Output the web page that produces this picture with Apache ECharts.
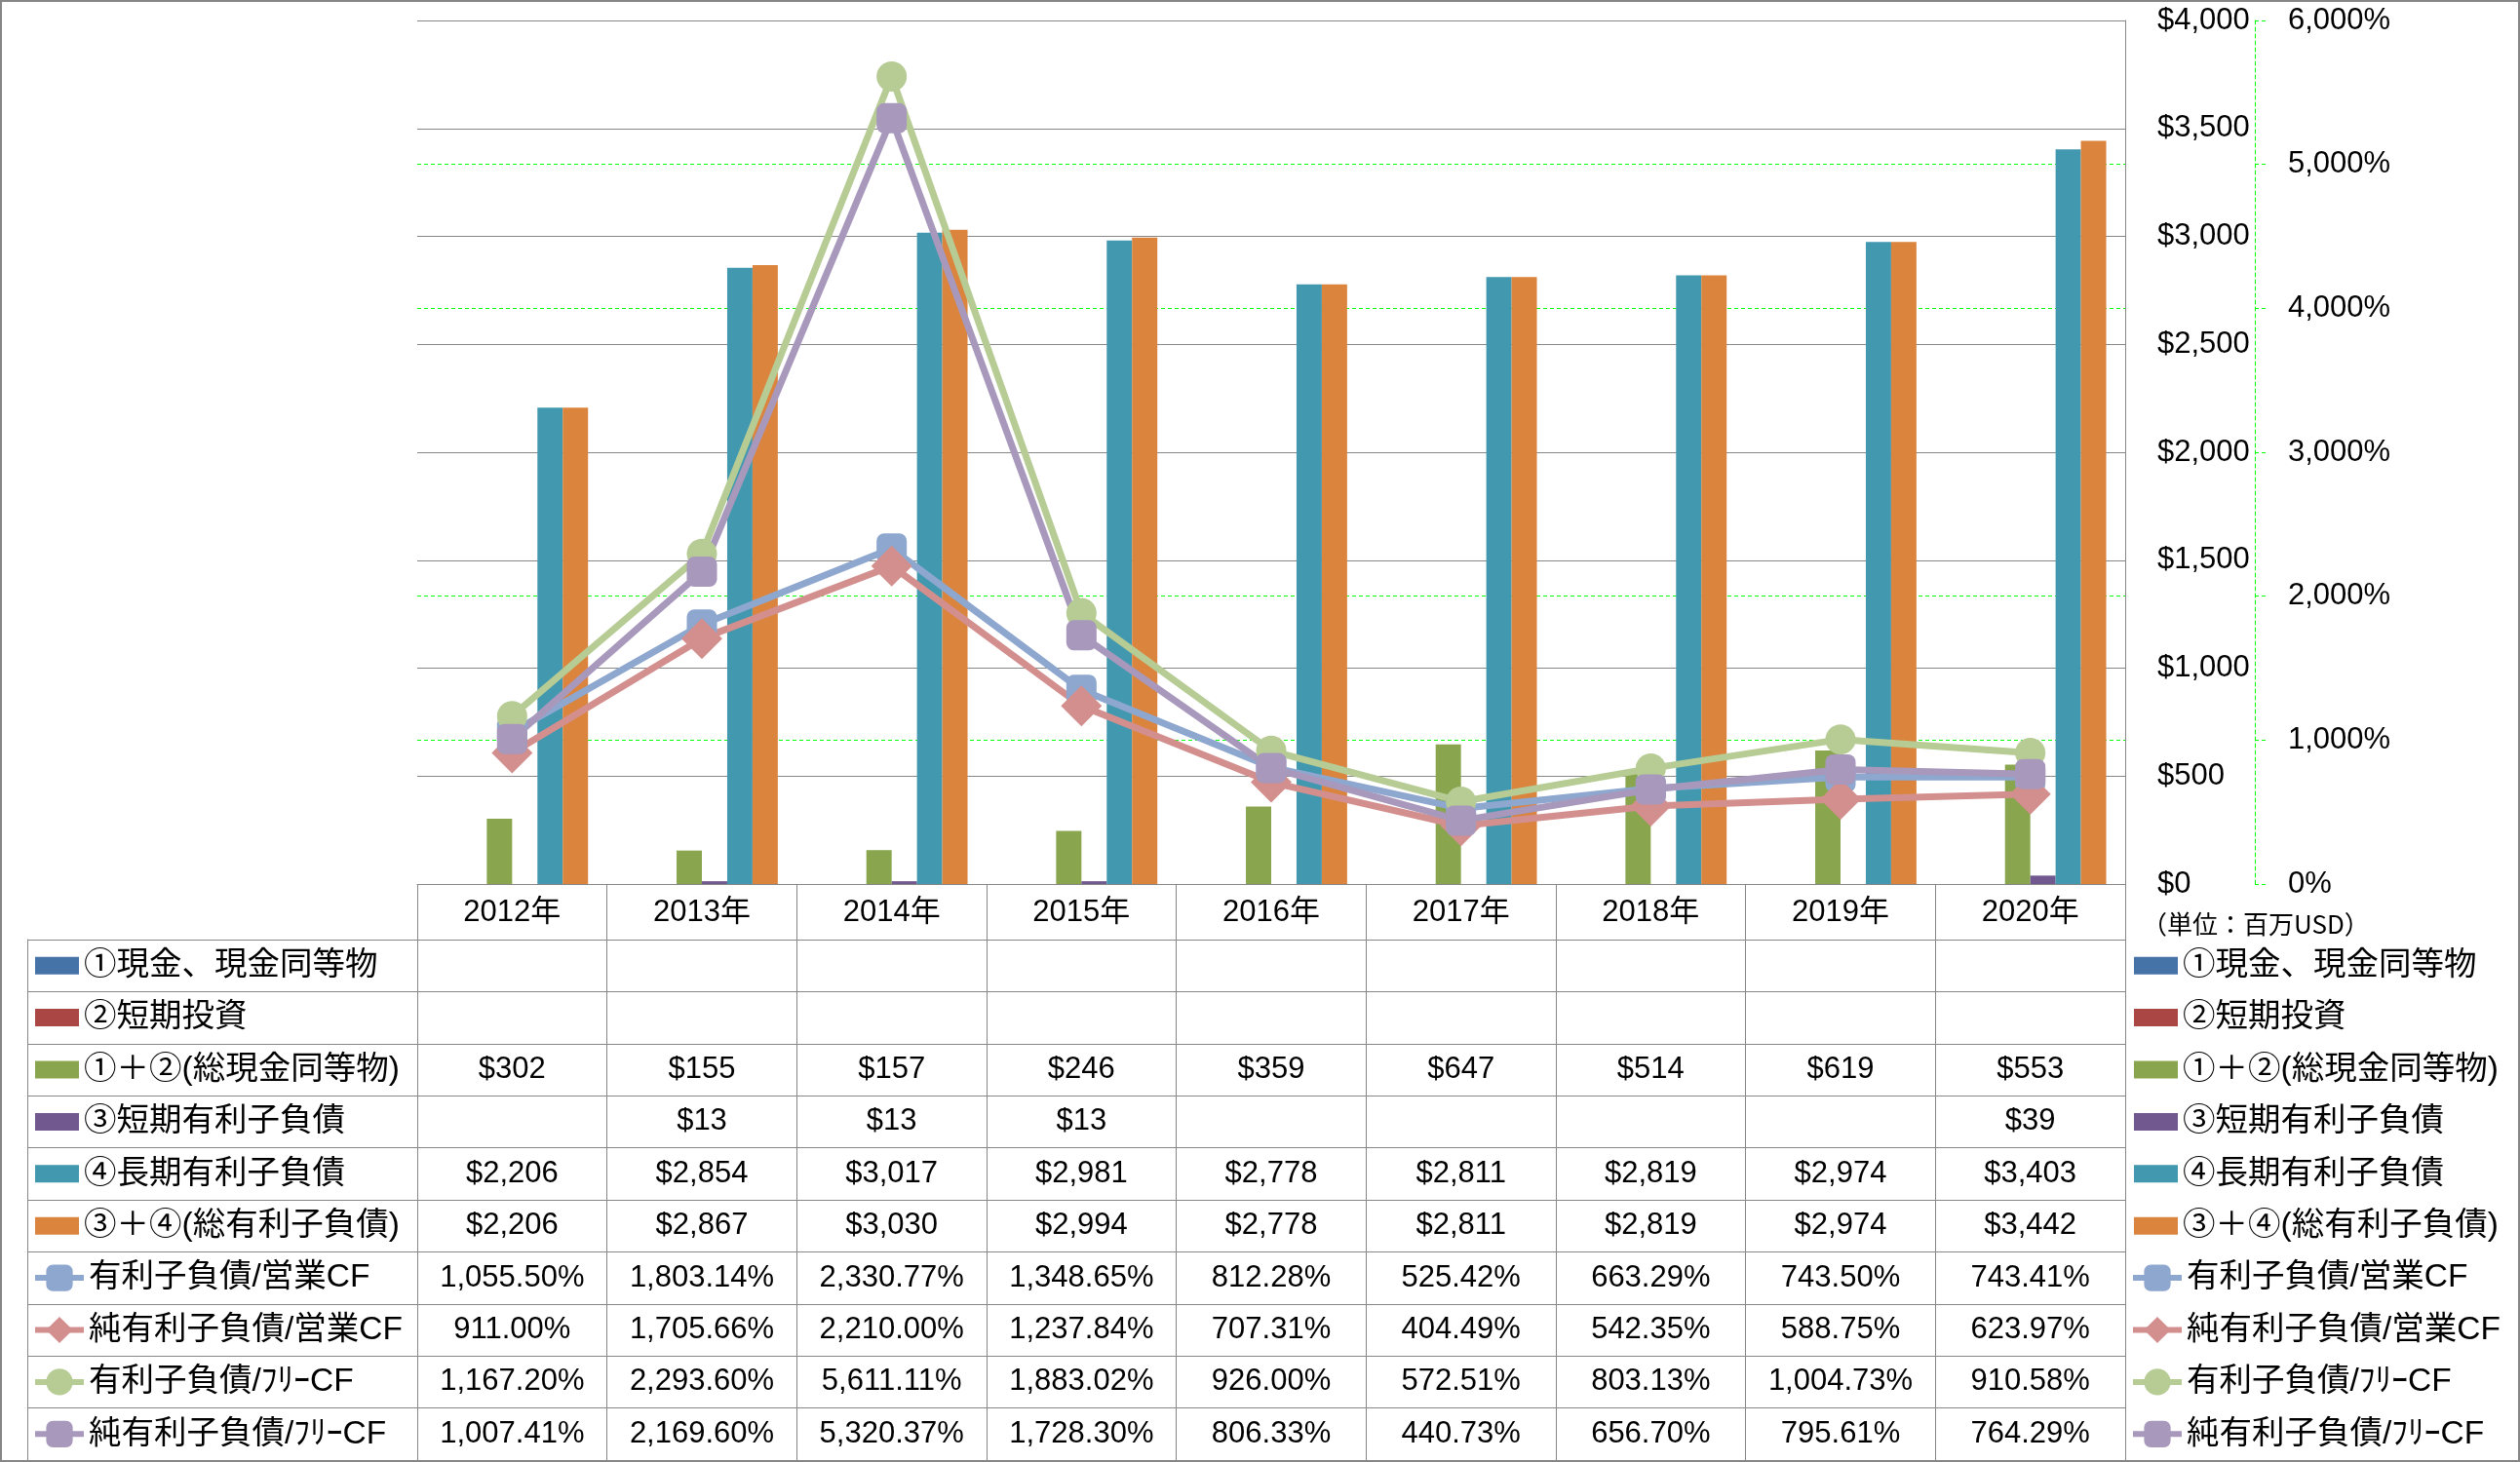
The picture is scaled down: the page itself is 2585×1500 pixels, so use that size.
<!DOCTYPE html>
<html><head><meta charset="utf-8">
<script src="https://cdn.jsdelivr.net/npm/echarts@6/dist/echarts.min.js"></script>
<style>
html,body{margin:0;padding:0;background:#fff;}
#c{width:2585px;height:1500px;position:absolute;left:0;top:0;}
#frame{position:absolute;left:0;top:0;width:2585px;height:1500px;box-sizing:border-box;border:2px solid #868686;pointer-events:none;}
</style>
</head><body><div id="c"></div><div id="frame"></div>
<script>
// ---- data ----
const years = ['2012年','2013年','2014年','2015年','2016年','2017年','2018年','2019年','2020年'];
const cash        = [null,null,null,null,null,null,null,null,null];
const shortInv    = [null,null,null,null,null,null,null,null,null];
const totalCash   = [302,155,157,246,359,647,514,619,553];
const shortDebt   = [null,13,13,13,null,null,null,null,39];
const longDebt    = [2206,2854,3017,2981,2778,2811,2819,2974,3403];
const totalDebt   = [2206,2867,3030,2994,2778,2811,2819,2974,3442];
const debtOpCF      = [1055.50,1803.14,2330.77,1348.65,812.28,525.42,663.29,743.50,743.41];
const netDebtOpCF   = [911.00,1705.66,2210.00,1237.84,707.31,404.49,542.35,588.75,623.97];
const debtFreeCF    = [1167.20,2293.60,5611.11,1883.02,926.00,572.51,803.13,1004.73,910.58];
const netDebtFreeCF = [1007.41,2169.60,5320.37,1728.30,806.33,440.73,656.70,795.61,764.29];
const usdTicks = [0,500,1000,1500,2000,2500,3000,3500,4000];
const pctTicks = [0,1000,2000,3000,4000,5000,6000];
const unitText = '（単位：百万USD）';

const barNames = ['①現金、現金同等物','②短期投資','①＋②(総現金同等物)','③短期有利子負債','④長期有利子負債','③＋④(総有利子負債)'];
const lineNames = ['有利子負債/営業CF','純有利子負債/営業CF','有利子負債/ﾌﾘｰCF','純有利子負債/ﾌﾘｰCF'];
const barData = [cash, shortInv, totalCash, shortDebt, longDebt, totalDebt];
const lineData = [debtOpCF, netDebtOpCF, debtFreeCF, netDebtFreeCF];
const barColors = ['#4572A7','#AA4643','#89A54E','#71588F','#4198AF','#DB843D'];
const lineColors = ['#8EA7CF','#D38F8D','#B6CC94','#A798BC'];
const lineSymbols = ['roundRect','diamond','circle','roundRect'];
const lineSymbolSizes = [31,42,31,31];

// ---- helpers ----
const FONT = "'Liberation Sans', 'Noto Sans CJK JP', sans-serif";
const GRID = '#878787';
const GREEN = '#00ff00';
const usd = v => '$' + Number(v).toLocaleString('en-US');
const pct2 = v => Number(v).toLocaleString('en-US',{minimumFractionDigits:2,maximumFractionDigits:2}) + '%';
const pct0 = v => Number(v).toLocaleString('en-US') + '%';

const ROW_TOP = 964, ROW_H = 53.4, NROWS = 10;
const rowCenter = i => ROW_TOP + ROW_H * (i + 0.5);

// table cells
const tableCells = [], tableTexts = [];
barData.forEach((arr, r) => arr.forEach((v, c) => { if (v != null) { tableCells.push([c, r]); tableTexts.push(usd(v)); } }));
lineData.forEach((arr, k) => arr.forEach((v, c) => { if (v != null) { tableCells.push([c, 6 + k]); tableTexts.push(pct2(v)); } }));

const series = [];
barNames.forEach((n, i) => series.push({
  name: n, type: 'bar', xAxisIndex: 0, yAxisIndex: 0, data: barData[i],
  barGap: '0%', barCategoryGap: '20%', itemStyle: {color: barColors[i]}, z: 2
}));
lineNames.forEach((n, i) => series.push({
  name: n, type: 'line', xAxisIndex: 0, yAxisIndex: 1, data: lineData[i],
  symbol: lineSymbols[i], symbolSize: lineSymbolSizes[i],
  lineStyle: {width: 7, color: lineColors[i]}, itemStyle: {color: lineColors[i]}, z: 3
}));
series.push({
  type: 'custom', xAxisIndex: 1, yAxisIndex: 2, data: tableCells, silent: true,
  encode: {x: 0, y: 1},
  renderItem: function (params, api) {
    const p = api.coord([api.value(0), api.value(1)]);
    return {type: 'text', x: p[0], y: p[1], style: {
      text: tableTexts[params.dataIndex], fill: '#000', fontSize: 31, fontFamily: FONT,
      align: 'center', verticalAlign: 'middle'}};
  }
});

const legendText = {fontSize: 33.5, fontFamily: FONT, color: '#000', lineHeight: 34};
function barLegend(left) {
  return {orient: 'vertical', left: left, top: rowCenter(0) - 17, padding: 0,
    itemGap: ROW_H - 34, itemWidth: 45, itemHeight: 18, icon: 'rect',
    selectedMode: false, textStyle: legendText, data: barNames};
}
function lineLegend(left) {
  return {orient: 'vertical', left: left, top: rowCenter(6) - 17, padding: 0,
    itemGap: ROW_H - 34, itemWidth: 50, itemHeight: 34,
    selectedMode: false, textStyle: legendText, lineStyle: {width: 6}, data: lineNames};
}

const option = {
  animation: false,
  backgroundColor: '#fff',
  textStyle: {fontFamily: FONT},
  title: {text: unitText, left: 2197, top: 935, padding: 0,
    textStyle: {fontSize: 26, fontWeight: 'normal', color: '#000', fontFamily: "'Noto Sans CJK JP', sans-serif", lineHeight: 26}},
  legend: [barLegend(36), lineLegend(33), barLegend(2189), lineLegend(2185)],
  grid: [
    {left: 428, right: 405, top: 21, bottom: 593, containLabel: false},
    {left: 428, width: 1752, top: ROW_TOP, height: ROW_H * NROWS, containLabel: false},
    {left: 28, width: 400, top: ROW_TOP, height: ROW_H * NROWS, containLabel: false}
  ],
  xAxis: [
    {type: 'category', gridIndex: 0, data: years, z: 2,
      axisLine: {show: true, lineStyle: {color: GRID, width: 1}},
      axisTick: {show: true, interval: 0, length: 57, lineStyle: {color: GRID, width: 1}},
      axisLabel: {interval: 0, fontSize: 31, fontFamily: FONT, color: '#000', margin: 13.5, lineHeight: 31},
      splitLine: {show: false}},
    {type: 'category', gridIndex: 1, data: years,
      axisLine: {show: false}, axisTick: {show: false}, axisLabel: {show: false},
      splitLine: {show: true, interval: 0, lineStyle: {color: GRID, width: 1}}},
    {type: 'value', gridIndex: 2, show: false, min: 0, max: 1}
  ],
  yAxis: [
    {type: 'value', gridIndex: 0, position: 'right', z: 1, min: usdTicks[0], max: usdTicks[usdTicks.length - 1],
      interval: usdTicks[1] - usdTicks[0],
      axisLine: {show: true, lineStyle: {color: GRID, width: 1}}, axisTick: {show: false},
      axisLabel: {margin: 33, fontSize: 31, fontFamily: FONT, color: '#000', formatter: usd},
      splitLine: {show: true, lineStyle: {color: GRID, width: 1}}},
    {type: 'value', gridIndex: 0, position: 'right', offset: 133, z: 0, min: pctTicks[0], max: pctTicks[pctTicks.length - 1],
      interval: pctTicks[1] - pctTicks[0],
      axisLine: {show: true, lineStyle: {color: GREEN, width: 1, type: [4, 3]}},
      axisTick: {show: true, length: 12, lineStyle: {color: GREEN, width: 1, type: [4, 3]}},
      axisLabel: {margin: 34, fontSize: 31, fontFamily: FONT, color: '#000', formatter: pct0},
      splitLine: {show: true, lineStyle: {color: GREEN, width: 1, type: [4, 3]}}},
    {type: 'category', gridIndex: 1, inverse: true, data: [0,1,2,3,4,5,6,7,8,9],
      axisLine: {show: false}, axisTick: {show: false}, axisLabel: {show: false},
      splitLine: {show: true, interval: 0, lineStyle: {color: GRID, width: 1}}},
    {type: 'category', gridIndex: 2, inverse: true, data: [0,1,2,3,4,5,6,7,8,9],
      axisLine: {show: true, lineStyle: {color: GRID, width: 1}}, axisTick: {show: false}, axisLabel: {show: false},
      splitLine: {show: true, interval: 0, lineStyle: {color: GRID, width: 1}}}
  ],
  series: series
};
const chart = echarts.init(document.getElementById('c'), null, {renderer: 'canvas'});
chart.setOption(option);
</script>
</body></html>
